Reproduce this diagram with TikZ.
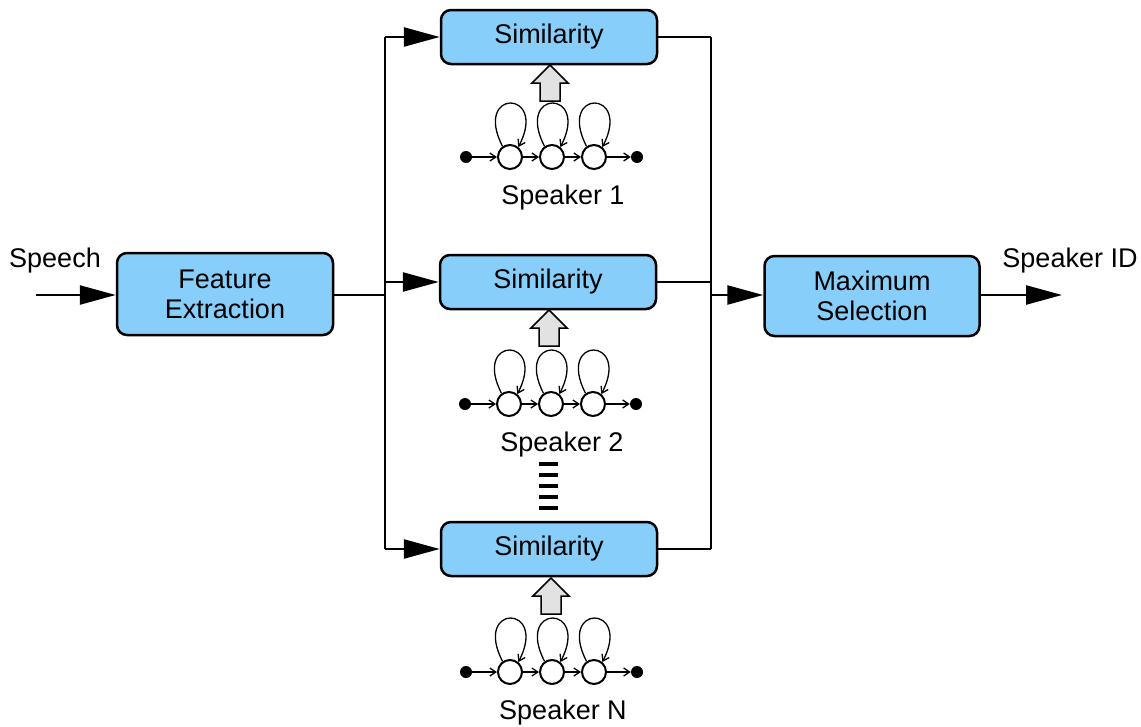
\documentclass[tikz,border=0pt]{standalone}
\usepackage{fontspec}
\setmainfont{Liberation Sans}
\usetikzlibrary{arrows.meta,calc}
\definecolor{boxblue}{RGB}{135,206,250}
\definecolor{arrowgray}{RGB}{226,226,226}
\begin{document}
\begin{tikzpicture}[x=1pt,y=-1pt,
 blk/.style={draw,line width=2.5pt,rounded corners=10pt,fill=boxblue,align=center,font=\fontsize{27}{30}\selectfont,inner sep=0pt},
 wire/.style={line width=2.5pt},
 arr/.style={wire,-{Triangle[length=36pt,width=19pt]}},
 lbl/.style={font=\fontsize{27}{30}\selectfont,inner sep=0pt},
 state/.style={circle,draw,line width=2pt,minimum size=24pt,inner sep=0pt,fill=white},
 dotnode/.style={circle,fill=black,minimum size=12pt,inner sep=0pt},
 tr/.style={line width=1.3pt,-{Straight Barb[length=6pt,width=8pt]}},
 blockarrow/.style={draw,line width=1.5pt,fill=arrowgray,line join=miter}
]
\useasboundingbox (0,0) rectangle (1141,726);

\node[blk,minimum width=216pt,minimum height=82pt] (fe) at (225,294) {Feature\\Extraction};
\node[blk,minimum width=216pt,minimum height=54pt] (sim1) at (549,37) {Similarity};
\node[blk,minimum width=216pt,minimum height=54pt] (sim2) at (548,282) {Similarity};
\node[blk,minimum width=216pt,minimum height=54pt] (sim3) at (549,549) {Similarity};
\node[blk,minimum width=215pt,minimum height=80pt] (ms) at (872,296) {Maximum\\Selection};

\node[lbl] (speech) at (55,261) {Speech};
\node[lbl] (spkid) at (1070,261) {Speaker ID};

\coordinate (in) at (36,295);
\coordinate (out) at (1062,295);
\coordinate (sp) at (385,295);
\coordinate (jt) at (385,37);
\coordinate (jb) at (385,549);
\coordinate (mg) at (711,295);
\coordinate (mt) at (711,37);
\coordinate (mb) at (711,549);

\draw[arr] (in) -- (fe.west |- in);
\draw[wire] (fe.east |- sp) -- (sp);
\draw[wire] (jt) -- (jb);
\draw[arr] (jt) -- (sim1.west);
\draw[arr] (sp |- sim2) -- (sim2.west);
\draw[arr] (jb) -- (sim3.west);
\draw[wire] (sim1.east) -- (mt);
\draw[wire] (sim2.east) -- (mg |- sim2);
\draw[wire] (sim3.east) -- (mb);
\draw[wire] (mt) -- (mb);
\draw[arr] (mg) -- (ms.west |- mg);
\draw[arr] (ms.east |- out) -- (out);

% block arrows
\foreach \x/\t in {550/65,549/310,551/578}{
  \draw[blockarrow] (\x-10,\t+36) -- (\x-10,\t+18) -- (\x-18,\t+18) -- (\x,\t)
     -- (\x+18,\t+18) -- (\x+10,\t+18) -- (\x+10,\t+36) -- cycle;
}

% HMM chains
\foreach \p/\dx/\y/\lab in {a/0/157/1,b/-1/404/2,c/0/672/N}{
  \node[dotnode] (\p0) at (466+\dx,\y) {};
  \node[state] (\p1) at (510+\dx,\y) {};
  \node[state] (\p2) at (552+\dx,\y) {};
  \node[state] (\p3) at (594+\dx,\y) {};
  \node[dotnode] (\p4) at (637+\dx,\y) {};
  \draw[tr] (\p0) -- (\p1);
  \draw[tr] (\p1) -- (\p2);
  \draw[tr] (\p2) -- (\p3);
  \draw[tr] (\p3) -- (\p4);
  \foreach \s in {1,2,3}{
    \draw[tr] (\p\s.125) .. controls +(-30,-58) and +(30,-58) .. (\p\s.50);
  }
  \node[lbl] (\p L) at (563+\dx,\y+41) {Speaker \lab};
}

% dashes
\foreach \yy in {464,475,486,497,508}{
  \draw[line width=4pt] (539,\yy) -- (558,\yy);
}
\end{tikzpicture}
\end{document}
